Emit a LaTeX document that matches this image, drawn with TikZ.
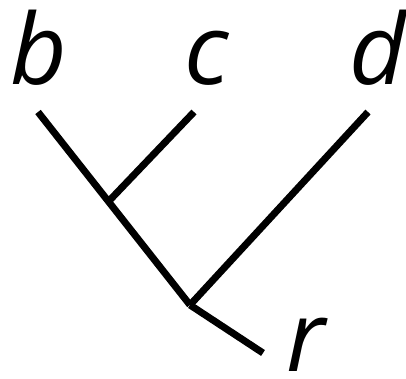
\documentclass[tikz,border=0pt]{standalone}
\usepackage{fontspec}
\setmainfont{Open Sans}
\usetikzlibrary{positioning}

\begin{document}
\begin{tikzpicture}[x=1pt, y=-1pt,
    leaf/.style={font=\fontsize{98}{98}\selectfont\itshape, inner sep=0pt, anchor=base, text depth=0pt},
    edge/.style={line width=7pt, black, line cap=butt}
]
    \useasboundingbox (0,0) rectangle (406,379);

    % Labels
    \node[leaf] (b) at (39,85) {b};
    \node[leaf] (c) at (207,85) {c};
    \node[leaf] (d) at (378,85) {d};
    \node[leaf] (r) at (306,371) {r};

    % Tree
    \coordinate (tb) at (38,112);
    \coordinate (tc) at (194,112);
    \coordinate (td) at (368,112);
    \coordinate (bc) at (109,201);
    \coordinate (root) at (190,305);
    \coordinate (tr) at (263,353);

    \draw[edge] (tb) -- (root);
    \draw[edge] (bc) -- (tc);
    \draw[edge] (root) -- (td);
    \draw[edge] (root) -- (tr);
\end{tikzpicture}
\end{document}
